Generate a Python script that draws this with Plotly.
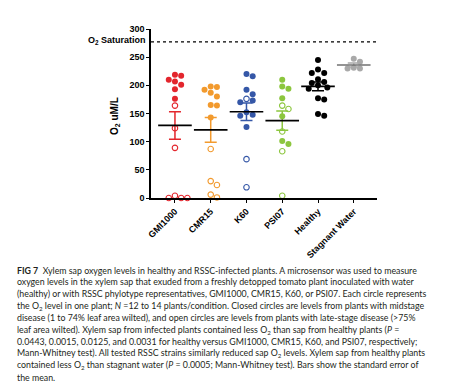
import numpy as np
import plotly.graph_objects as go

categories = ["GMI1000", "CMR15", "K60", "PSI07", "Healthy", "Stagnant Water"]
closed_vals = [
    [219, 217, 210, 207, 201, 193, 176],
    [198, 197, 192, 187, 180, 165, 164, 143],
    [220, 216, 192, 184, 173, 170, 152, 148, 146, 126],
    [210, 198, 194, 177, 145, 101, 96],
    [245, 228, 222, 222, 211, 206, 204, 200, 196, 194, 177, 175, 149, 146],
    [247, 242, 231, 230, 230],
]
open_vals = [
    [164, 124, 89, 4, 0, 0, 0],
    [87, 30, 23, 6, 1],
    [176, 69, 19],
    [164, 158, 118, 83, 4],
    [],
    [],
]
colors = ["#e3262d", "#f29a2e", "#3557a7", "#8cc63e", "#000000", "#a9a9a9"]
mean_colors = ["#000000", "#000000", "#000000", "#000000", "#000000", "#707070"]
saturation = 277
y_ticks = [0, 50, 100, 150, 200, 250, 300]

W, H = 453, 384
ML, MR, MT, MB = 143, 84, 21, 194
pw, ph = W - ML - MR, H - MT - MB
xr = [-0.67, 5.65]
yr = [0, 300]
px_x = pw / (xr[1] - xr[0])
px_y = ph / (yr[1] - yr[0])


def swarm(vals, diam=6.2, step=3.1):
    n = len(vals)
    order = sorted(range(n), key=lambda i: -vals[i])
    placed = []
    offs = [0.0] * n
    for i in order:
        yp = vals[i] * px_y
        cands = [0.0]
        for j in range(1, 40):
            cands += [j * step, -j * step]
        for c in cands:
            if all((c - px) ** 2 + (yp - py) ** 2 >= diam ** 2 * 0.98 for px, py in placed):
                offs[i] = c
                placed.append((c, yp))
                break
    return [o / px_x for o in offs]


fig = go.Figure()
for gi, cat in enumerate(categories):
    cv, ov = closed_vals[gi], open_vals[gi]
    allv = cv + ov
    offs = swarm(allv)
    xs = [gi + o for o in offs]
    fig.add_trace(go.Scatter(
        x=xs[:len(cv)], y=cv, mode="markers", showlegend=False, cliponaxis=False,
        marker=dict(size=6, color=colors[gi], line=dict(width=0))))
    if ov:
        fig.add_trace(go.Scatter(
            x=xs[len(cv):], y=ov, mode="markers", showlegend=False, cliponaxis=False,
            marker=dict(size=5.5, symbol="circle-open", color=colors[gi], line=dict(width=1.1))))
    arr = np.array(allv, dtype=float)
    m = arr.mean()
    sem = arr.std(ddof=1) / np.sqrt(len(arr))
    fig.add_trace(go.Scatter(
        x=[gi], y=[m], mode="markers", showlegend=False, cliponaxis=False,
        marker=dict(size=1, color="rgba(0,0,0,0)"),
        error_y=dict(type="data", array=[sem], visible=True, color=colors[gi], thickness=1.5, width=6)))
    fig.add_trace(go.Scatter(
        x=[gi], y=[m], mode="markers", showlegend=False, cliponaxis=False,
        marker=dict(symbol="line-ew-open", size=24, color=mean_colors[gi],
                    line=dict(color=mean_colors[gi], width=1.6))))

fig.add_shape(type="line", xref="paper", x0=0, x1=1, yref="y", y0=saturation, y1=saturation,
              line=dict(color="black", width=1.2, dash="dot"))

axfont = dict(family="Liberation Sans", size=9, color="black")
fig.update_layout(
    width=W, height=H, margin=dict(l=ML, r=MR, t=MT, b=MB),
    paper_bgcolor="white", plot_bgcolor="white",
    xaxis=dict(range=xr, tickmode="array", tickvals=list(range(len(categories))),
               ticktext=["<b>%s</b>" % c for c in categories], tickangle=-45,
               showline=True, linecolor="black", linewidth=1.5, ticks="outside", ticklen=3,
               tickwidth=1.3, tickcolor="black", showgrid=False, zeroline=False, tickfont=axfont),
    yaxis=dict(range=yr, tickmode="array", tickvals=y_ticks,
               ticktext=["<b>%d</b>" % t for t in y_ticks],
               showline=True, linecolor="black", linewidth=1.5, ticks="outside", ticklen=3,
               tickwidth=1.3, tickcolor="black", showgrid=False, zeroline=False, tickfont=axfont),
    font=axfont,
)


def pxx(p):
    return (p - ML) / pw


def pxy(p):
    return (H - MB - p) / ph


fig.add_annotation(text="<b>O<sub>2</sub> Saturation</b>", xref="paper", yref="y",
                   x=pxx(139.5), y=saturation + 3, xanchor="right", yanchor="middle",
                   showarrow=False, font=dict(family="Liberation Sans", size=9, color="black"))
fig.add_annotation(text="<b>O<sub>2</sub> uM/L</b>", xref="paper", yref="paper",
                   x=pxx(107), y=pxy(108), xanchor="center", yanchor="middle", textangle=-90,
                   showarrow=False, font=dict(family="Liberation Sans", size=10, color="black"))

caption = [
    "<b>FIG 7</b>  Xylem sap oxygen levels in healthy and RSSC-infected plants. A microsensor was used to measure",
    "oxygen levels in the xylem sap that exuded from a freshly detopped tomato plant inoculated with water",
    "(healthy) or with RSSC phylotype representatives, GMI1000, CMR15, K60, or PSI07. Each circle represents",
    "the O<sub>2</sub> level in one plant; <i>N</i> =12 to 14 plants/condition. Closed circles are levels from plants with midstage",
    "disease (1 to 74% leaf area wilted), and open circles are levels from plants with late-stage disease (>75%",
    "leaf area wilted). Xylem sap from infected plants contained less O<sub>2</sub> than sap from healthy plants (<i>P</i> =",
    "0.0443, 0.0015, 0.0125, and 0.0031 for healthy versus GMI1000, CMR15, K60, and PSI07, respectively;",
    "Mann-Whitney test). All tested RSSC strains similarly reduced sap O<sub>2</sub> levels. Xylem sap from healthy plants",
    "contained less O<sub>2</sub> than stagnant water (<i>P</i> = 0.0005; Mann-Whitney test). Bars show the standard error of",
    "the mean.",
]
for i, line in enumerate(caption):
    fig.add_annotation(text=line, xref="paper", yref="paper", x=pxx(7), y=pxy(262 + i * 11.9),
                       xanchor="left", yanchor="middle", showarrow=False,
                       font=dict(family="Lato", size=8.8, color="#231f20"))

fig.write_html("out.html")
